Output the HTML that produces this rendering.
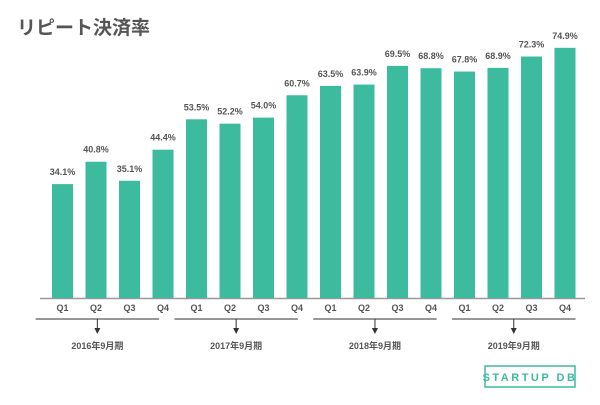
<!DOCTYPE html>
<html><head><meta charset="utf-8"><style>
body{margin:0;background:#fff;width:600px;height:400px;overflow:hidden;font-family:"Liberation Sans","Noto Sans CJK JP",sans-serif}
</style></head><body>
<svg width="600" height="400">
<text x="17" y="34" font-size="19" font-weight="bold" fill="#555" font-family="Liberation Sans, Noto Sans CJK JP, sans-serif">リピート決済率</text>
<line x1="40" y1="298.5" x2="585" y2="298.5" stroke="#999" stroke-width="1.5"/>
<g id="bars"></g>
<g id="groups"></g>
<g>
<rect x="485" y="366" width="90" height="21" fill="none" stroke="#3dbb9e" stroke-width="1.5"/>
<text x="530" y="381" font-size="11" font-weight="bold" fill="#3dbb9e" text-anchor="middle" letter-spacing="2.5">STARTUP DB</text>
</g>
</svg>
<script>
const quarters=["Q1","Q2","Q3","Q4","Q1","Q2","Q3","Q4","Q1","Q2","Q3","Q4","Q1","Q2","Q3","Q4"];
const values=[34.1,40.8,35.1,44.4,53.5,52.2,54.0,60.7,63.5,63.9,69.5,68.8,67.8,68.9,72.3,74.9];
const years=["2016年9月期","2017年9月期","2018年9月期","2019年9月期"];
const NS="http://www.w3.org/2000/svg";
const base=298, scale=3.34, x0=52, pitch=33.5, bw=21;
const xs=i=>x0+i*pitch;
const ys=v=>base-v*scale;
const bars=document.getElementById('bars');
function mk(t,a,p){const e=document.createElementNS(NS,t);for(const k in a)e.setAttribute(k,a[k]);p.appendChild(e);return e;}
values.forEach((v,i)=>{
 const r=mk('rect',{x:xs(i),y:ys(v),width:bw,height:base-ys(v),fill:'#3dbb9e'},bars);
 
 
 const t=mk('text',{x:xs(i)+bw/2,y:ys(v)-9,'font-size':9,'font-weight':'bold',fill:'#555','text-anchor':'middle'},bars);
 t.textContent=v.toFixed(1)+'%';
 
 
 const q=mk('text',{x:xs(i)+bw/2,y:311,'font-size':9,'font-weight':'bold',fill:'#555','text-anchor':'middle'},bars);
 q.textContent=quarters[i];
 
 
});
const g=document.getElementById('groups');
years.forEach((y,k)=>{
 const sh=(3-k)*4.8;
 const a=xs(k*4)-2-sh, b=xs(k*4+3)+bw-sh, c=(a+b)/2;
 const l=mk('line',{x1:a,y1:319,x2:b,y2:319,stroke:'#777','stroke-width':1.5},g);
 
 
 mk('line',{x1:c,y1:319,x2:c,y2:329,stroke:'#333','stroke-width':1},g);
 mk('polygon',{points:`${c-3},328 ${c+3},328 ${c},334`,fill:'#333'},g);
 const t=mk('text',{x:c,y:349,'font-size':9,'font-weight':'bold',fill:'#555','text-anchor':'middle'},g);
 t.textContent=y;
 
 
});
</script>
</body></html>
